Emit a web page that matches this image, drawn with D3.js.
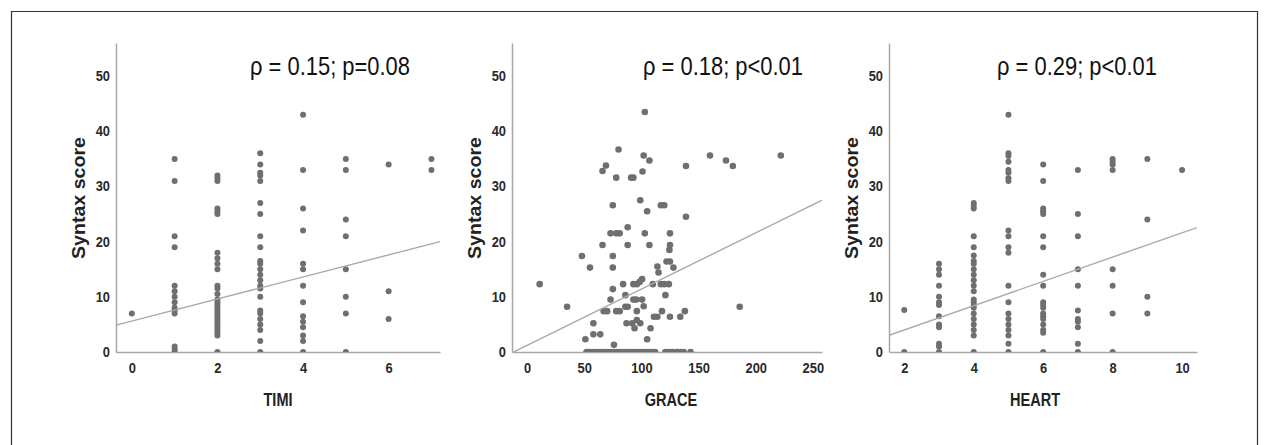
<!DOCTYPE html>
<html>
<head>
<meta charset="utf-8">
<script src="https://cdn.jsdelivr.net/npm/d3@7"></script>
<style>
  body { margin: 0; background: #fff; }
  text { font-family: "Liberation Sans", Arial, sans-serif; }
</style>
</head>
<body>
<div id="chart"></div>
<script>
// Data
var yTicks = [0, 10, 20, 30, 40, 50];

var timiTicks = [0, 2, 4, 6];
var timiLevels = [0, 1, 2, 3, 4, 5, 6, 7];
var timiScores = [
  [7],
  [35, 31, 21, 19, 12, 11, 10, 9, 8, 7.5, 7, 1, 0.5, 0],
  [32, 31.5, 31, 26, 25.5, 25, 18, 17, 16, 15, 12, 11.5, 10.5, 9.5, 9, 8.5, 8, 7.5, 7, 6.5, 6, 5.5, 5, 4.5, 4, 3.5, 3, 0],
  [36, 34, 32.5, 32, 31, 27, 25, 21, 19, 16.5, 16, 15, 14, 13, 12, 11.5, 10, 7.5, 7, 6, 5, 4, 2, 0],
  [43, 33, 26, 22, 16, 15, 12, 9, 6.5, 5.5, 4.5, 3, 2, 0],
  [35, 33, 24, 21, 15, 10, 7, 0],
  [34, 11, 6],
  [35, 33]
];
var timiFit = [5.6, 2.0]; // intercept, slope

var graceTicks = [0, 50, 100, 150, 200, 250];
var graceX = [103, 80, 102, 107, 69, 66, 101, 78, 91, 93, 139, 160, 174, 180, 222,
  99, 75, 105, 117, 120, 139, 73, 78, 81, 88, 103, 125, 66, 88, 107, 125, 124.5,
  48, 75, 55, 75, 122, 125, 128, 114, 115, 11, 75, 84, 93, 96, 98.5, 100.6, 110,
  117, 120, 124, 86, 121, 73, 93, 95.5, 100.6, 102, 35, 186, 86, 88, 67, 70, 78, 81,
  96, 96, 111, 114, 118, 125, 134, 138, 87, 92, 99, 58, 94, 108, 58, 64, 51, 105, 76,
  52, 55, 58, 61, 64, 67, 70, 73, 76, 79, 82, 85, 88, 91, 94, 97, 100, 103, 106, 109, 112,
  121, 124, 127, 131, 134, 137, 143];
var graceY = [43.5, 36.7, 35.6, 34.7, 33.8, 32.8, 32.7, 31.6, 31.6, 31.6, 33.7, 35.6, 34.7, 33.7, 35.6,
  27.5, 26.6, 25.5, 26.6, 26.6, 24.5, 21.5, 21.5, 21.5, 22.6, 21.5, 21.5, 19.4, 19.4, 19.4, 19.4, 18.5,
  17.4, 17.4, 15.3, 15.3, 16.4, 16.4, 15.3, 15.5, 14.4, 12.3, 11.4, 12.3, 12.3, 12.3, 12.7, 13.2, 12.3,
  12.3, 12.3, 12.3, 10.3, 10.3, 9.5, 9.5, 9.5, 9.5, 8.3, 8.2, 8.2, 8.2, 8.2, 7.4, 7.4, 7.4, 7.4,
  7.4, 5.8, 6.4, 6.4, 7.4, 6.4, 6.4, 7.4, 5.2, 5.2, 5.2, 5.2, 4.3, 4.3, 3.2, 3.2, 2.3, 2.3, 1.3,
  0, 0, 0, 0, 0, 0, 0, 0, 0, 0, 0, 0, 0, 0, 0, 0, 0, 0, 0, 0, 0,
  0, 0, 0, 0, 0, 0, 0];
var graceFit = [1.2, 0.102];

var heartTicks = [2, 4, 6, 8, 10];
var heartLevels = [2, 3, 4, 5, 6, 7, 8, 9, 10];
var heartScores = [
  [7.6, 0],
  [16, 15, 14, 12, 10, 9, 8.5, 6.5, 5, 4.5, 1.5, 1, 0],
  [27, 26.5, 26, 21, 19, 17.5, 16.5, 16, 15, 14, 13, 12, 11, 9.5, 9, 8.5, 8, 7, 6, 5, 4, 3, 0],
  [43, 36, 35.5, 34.5, 33, 32.5, 31.5, 31, 22, 21, 19, 18, 12, 9, 7, 6, 5, 4, 3, 1.5, 0],
  [34, 31, 26, 25.5, 25, 21, 19, 14, 12, 9, 8.5, 8, 7, 6.5, 6, 5, 4, 3.5, 0],
  [33, 25, 21, 15, 12, 7.5, 6, 5.5, 4.5, 1.5, 0],
  [35, 34.5, 34, 33, 15, 12, 7, 0],
  [35, 24, 10, 7],
  [33]
];
var heartFit = [-0.4, 2.2];

// flatten column data into points
function columns(levels, scores) {
  var pts = [];
  levels.forEach(function(lv, i) {
    scores[i].forEach(function(s) { pts.push([lv, s]); });
  });
  return pts;
}

// squeeze a text to look like a narrow font
function narrow(sel, f) {
  sel.each(function() {
    var w = this.getComputedTextLength();
    d3.select(this).attr('textLength', w * f).attr('lengthAdjust', 'spacingAndGlyphs');
  });
}

var panels = [
  { name: 'TIMI', pts: columns(timiLevels, timiScores), ticks: timiTicks, fit: timiFit,
    domain: [-0.37, 7.2], range: [116, 440], r: 3, label: 'ρ = 0.15; p=0.08', labelX: 250, titleDx: 0 },
  { name: 'GRACE', pts: graceX.map(function(d, i) { return [d, graceY[i]]; }), ticks: graceTicks, fit: graceFit,
    domain: [-13.2, 258], range: [512, 822], r: 3.3, label: 'ρ = 0.18; p<0.01', labelX: 643, titleDx: 4 },
  { name: 'HEART', pts: columns(heartLevels, heartScores), ticks: heartTicks, fit: heartFit,
    domain: [1.56, 10.43], range: [889, 1197], r: 3, label: 'ρ = 0.29; p<0.01', labelX: 997, titleDx: -8 }
];

var W = 1269, H = 445;
var svg = d3.select('#chart').append('svg')
  .attr('width', W)
  .attr('height', H);

// outer frame
svg.append('path')
  .attr('d', 'M11.5,' + H + 'V11.5H1257.5V' + H)
  .attr('fill', 'none')
  .attr('stroke', '#333')
  .attr('stroke-width', 1.2);

var y = d3.scaleLinear().domain([0, 56]).range([352, 43]);

panels.forEach(function(p, k) {
  var x = d3.scaleLinear().domain(p.domain).range(p.range);
  var g = svg.append('g');

  var clipId = 'clip' + k;
  svg.append('clipPath').attr('id', clipId)
    .append('rect')
    .attr('x', p.range[0]).attr('y', y.range()[1])
    .attr('width', p.range[1] - p.range[0])
    .attr('height', y.range()[0] - y.range()[1]);

  // y axis
  var yAxis = d3.axisLeft(y).tickValues(yTicks).tickSize(0).tickPadding(6);
  var ya = g.append('g')
    .attr('transform', 'translate(' + p.range[0] + ',0)')
    .call(yAxis);
  ya.select('.domain').attr('stroke', '#a8a8a8').attr('stroke-width', 1.5);
  ya.selectAll('text')
    .attr('font-size', 14).attr('font-weight', 'bold').attr('fill', '#2a2a2a')
    .attr('font-family', '"Liberation Sans", Arial, sans-serif')
    .call(narrow, 0.92);

  // x axis
  var xAxis = d3.axisBottom(x).tickValues(p.ticks).tickSize(0).tickPadding(11);
  var xa = g.append('g')
    .attr('transform', 'translate(0,' + y(0) + ')')
    .call(xAxis);
  xa.select('.domain').attr('stroke', '#a8a8a8').attr('stroke-width', 1.5);
  xa.selectAll('text')
    .attr('font-size', 14).attr('font-weight', 'bold').attr('fill', '#2a2a2a')
    .attr('font-family', '"Liberation Sans", Arial, sans-serif')
    .call(narrow, 0.92);

  // points
  g.append('g').attr('clip-path', 'url(#' + clipId + ')')
    .selectAll('circle')
    .data(p.pts).enter().append('circle')
    .attr('cx', function(d) { return x(d[0]); })
    .attr('cy', function(d) { return y(d[1]); })
    .attr('r', p.r)
    .attr('fill', '#6f6f6f');

  // fit line
  var line = d3.line()
    .x(function(d) { return x(d); })
    .y(function(d) { return y(p.fit[0] + p.fit[1] * d); });
  g.append('path')
    .datum(p.domain)
    .attr('clip-path', 'url(#' + clipId + ')')
    .attr('d', line)
    .attr('fill', 'none')
    .attr('stroke', '#a9a9a9')
    .attr('stroke-width', 1.4);

  // axis titles
  var cx = (p.range[0] + p.range[1]) / 2 + p.titleDx;
  g.append('text')
    .attr('x', cx).attr('y', 406)
    .attr('text-anchor', 'middle')
    .attr('font-size', 17.5).attr('font-weight', 'bold').attr('fill', '#222')
    .text(p.name)
    .call(narrow, 0.83);

  g.append('text')
    .attr('transform', 'translate(' + (p.range[0] - 31) + ',198) rotate(-90)')
    .attr('text-anchor', 'middle')
    .attr('font-size', 17.5).attr('font-weight', 'bold').attr('fill', '#222')
    .attr('textLength', 122).attr('lengthAdjust', 'spacingAndGlyphs')
    .text('Syntax score');

  // correlation label
  g.append('text')
    .attr('x', p.labelX).attr('y', 75)
    .attr('font-size', 25).attr('fill', '#111')
    .attr('textLength', 160).attr('lengthAdjust', 'spacingAndGlyphs')
    .text(p.label);
});
</script>
</body>
</html>
